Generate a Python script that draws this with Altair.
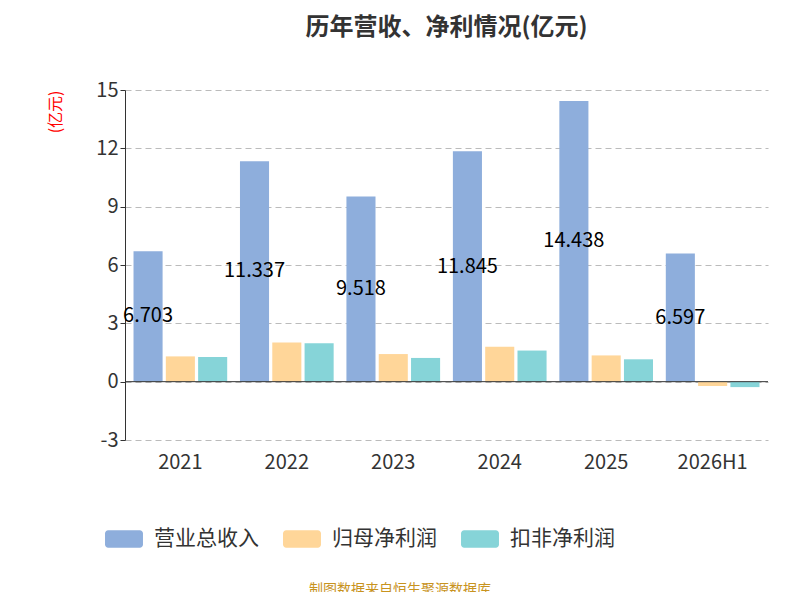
import altair as alt
import pandas as pd

years = ["2021", "2022", "2023", "2024", "2025", "2026H1"]
series = ["营业总收入", "归母净利润", "扣非净利润"]
revenue = [6.703, 11.337, 9.518, 11.845, 14.438, 6.597]
netprofit = [1.30, 2.02, 1.42, 1.80, 1.35, -0.22]
deducted = [1.27, 1.97, 1.22, 1.60, 1.15, -0.28]
colors = ["#8eaedc", "#ffd699", "#86d4d8"]

rows = []
for i, y in enumerate(years):
    for s, v in zip(series, [revenue[i], netprofit[i], deducted[i]]):
        rows.append({"year": y, "series": s, "value": v})
df = pd.DataFrame(rows)
lab = pd.DataFrame({"year": years, "series": series[0], "value": revenue,
                    "half": [v / 2 for v in revenue], "txt": [f"{v:.3f}" for v in revenue]})

font = "Noto Sans CJK SC"
xenc = alt.X("year:N", sort=years, title=None,
             axis=alt.Axis(labelFontSize=20, labelColor="#333", domain=False, ticks=False,
                           labelAngle=0, labelPadding=12, labelFont=font),
             scale=alt.Scale(paddingInner=0.12, paddingOuter=0.08))
xoff = alt.XOffset("series:N", sort=series, scale=alt.Scale(domain=series, paddingInner=0.1))
yscale = alt.Scale(domain=[-3, 15])

bars = alt.Chart(df).mark_bar().encode(
    x=xenc,
    xOffset=xoff,
    y=alt.Y("value:Q", scale=yscale, title="(亿元)",
            axis=alt.Axis(values=[-3, 0, 3, 6, 9, 12, 15], labelFontSize=20, labelColor="#333",
                          labelFont=font, grid=True, gridDash=[6, 4], gridColor="#bbb",
                          labelExpr="replace(datum.label, '−', '-')",
                          domainColor="#333", tickColor="#333", titleColor="red",
                          titleFontSize=16, titleFontWeight="normal", titleAngle=270,
                          titleAnchor="end", titleAlign="right", titleX=-62, titleY=0,
                          titleFont=font)),
    color=alt.Color("series:N", sort=series, scale=alt.Scale(domain=series, range=colors),
                    legend=alt.Legend(orient="none", legendX=-17, legendY=433, direction="horizontal",
                                      title=None, labelFontSize=21, labelFont=font, labelColor="#333",
                                      symbolType="M-1,-0.55 H1 A0.2,0.2 0 0 1 1.2,-0.35 V0.35 A0.2,0.2 0 0 1 1,0.55 H-1 A0.2,0.2 0 0 1 -1.2,0.35 V-0.35 A0.2,0.2 0 0 1 -1,-0.55 Z",
                                      symbolSize=1000, symbolOpacity=1, symbolStrokeWidth=0,
                                      columnPadding=24, labelOffset=14)),
)

zero = alt.Chart(pd.DataFrame({"z": [0]})).mark_rule(color="#333").encode(y=alt.Y("z:Q", scale=yscale))

texts = alt.Chart(lab).mark_text(fontSize=20, font=font, color="black", baseline="middle").encode(
    x=xenc,
    xOffset=xoff,
    y=alt.Y("half:Q", scale=yscale),
    text="txt:N",
)

src = alt.Chart(pd.DataFrame({"t": ["制图数据来自恒生聚源数据库"]})).mark_text(
    fontSize=14, font=font, color="#c8931e").encode(x=alt.value(275), y=alt.value(500), text="t:N")

chart = alt.layer(bars, zero, texts, src).properties(
    width=643, height=350,
    title=alt.TitleParams("历年营收、净利情况(亿元)", fontSize=24, font=font, fontWeight="bold",
                          color="#333", anchor="middle", offset=40),
    autosize="none",
    padding={"left": 117, "top": 82, "right": 24, "bottom": 152},
).configure_view(stroke=None)

chart.save("out.html", embed_options={"renderer": "svg", "actions": False})
